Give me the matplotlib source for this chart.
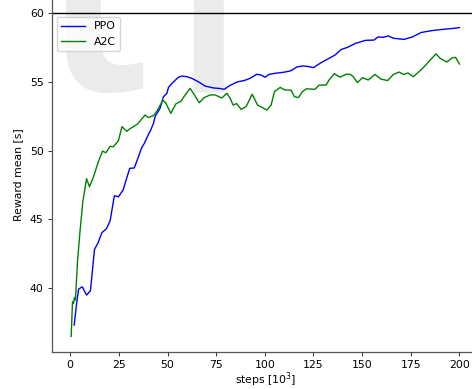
import matplotlib
matplotlib.use("Agg")
import matplotlib.pyplot as plt
import numpy as np

# ---- data (steps in 10^3, reward mean in s) ----
ppo_steps = [2.05, 3.1, 4.3, 6.2, 8.4, 10.4, 12.5, 14.2, 16.3, 18.6, 20.5, 22.7, 24.8, 27.2,
             28.5, 30.6, 32.9, 35.1, 36.7, 38.0, 40.3, 41.1, 42.8, 43.7, 46.2, 47.9, 49.7,
             50.5, 52.7, 55.6, 57.4, 59.9, 62.5, 65.9, 69.3, 73.6, 77.0, 79.1, 82.2, 85.8,
             89.4, 92.4, 95.9, 98.1, 100.2, 102.2, 105.3, 107.9, 110.4, 113.5, 116.6, 119.8,
             122.4, 125.0, 128.4, 131.2, 134.1, 136.1, 139.2, 142.5, 146.6, 151.8, 156.1,
             158.2, 160.9, 163.5, 166.1, 171.5, 175.9, 180.3, 185.4, 192.1, 196.9, 200.0]
ppo_reward = [37.28, 38.62, 39.9, 40.07, 39.47, 39.77, 42.8, 43.24, 44.02, 44.3, 44.87, 46.7,
              46.63, 47.12, 47.75, 48.7, 48.73, 49.55, 50.2, 50.5, 51.2, 51.4, 51.98, 52.5,
              53.08, 53.92, 54.17, 54.6, 54.95, 55.34, 55.43, 55.38, 55.26, 55.01, 54.7, 54.56,
              54.52, 54.46, 54.75, 55.0, 55.1, 55.26, 55.56, 55.5, 55.34, 55.55, 55.63, 55.67,
              55.72, 55.82, 56.1, 56.16, 56.12, 56.04, 56.36, 56.58, 56.8, 56.96, 57.36, 57.52,
              57.81, 58.03, 58.05, 58.28, 58.25, 58.35, 58.18, 58.1, 58.28, 58.6, 58.73, 58.84,
              58.9, 58.96]

a2c_steps = [0.5, 1.2, 1.7, 2.2, 2.7, 3.7, 5.1, 6.5, 8.4, 9.9, 12.0, 14.2, 16.6, 18.3, 20.5,
             22.2, 24.8, 26.6, 29.1, 30.8, 32.5, 34.6, 36.5, 38.5, 40.2, 42.8, 44.7, 47.6,
             49.0, 51.7, 54.3, 56.9, 59.1, 61.6, 63.3, 66.3, 68.8, 71.9, 74.5, 77.9, 80.5,
             82.2, 83.7, 85.6, 87.8, 90.4, 93.5, 96.3, 98.5, 101.0, 103.2, 105.0, 107.9,
             110.4, 113.5, 115.2, 117.3, 119.3, 121.5, 125.8, 127.9, 131.5, 133.0, 135.7,
             138.7, 141.7, 143.8, 145.3, 147.6, 150.2, 153.2, 156.6, 159.7, 163.1, 166.1,
             169.0, 171.2, 173.6, 176.3, 180.8, 184.4, 188.0, 190.0, 193.5, 196.2, 198.0, 200.0]
a2c_reward = [36.46, 38.98, 38.86, 39.3, 39.1, 41.8, 44.2, 46.27, 47.95, 47.36, 48.09, 49.07,
              49.96, 49.84, 50.3, 50.28, 50.72, 51.74, 51.4, 51.6, 51.74, 51.93, 52.25, 52.59,
              52.4, 52.55, 52.9, 53.66, 53.5, 52.71, 53.4, 53.6, 54.05, 54.53, 54.17, 53.48,
              53.85, 54.05, 54.05, 53.83, 54.17, 53.8, 53.32, 53.42, 53.0, 53.2, 54.1, 53.3,
              53.15, 52.95, 53.3, 54.3, 54.6, 54.41, 54.4, 53.92, 53.86, 54.29, 54.5, 54.46,
              54.77, 54.77, 55.14, 55.6, 55.34, 55.56, 55.55, 55.4, 54.95, 55.31, 55.14, 55.55,
              55.2, 55.1, 55.55, 55.72, 55.55, 55.65, 55.38, 55.95, 56.5, 57.05, 56.72, 56.45,
              56.75, 56.79, 56.3]

max_reward = 60
x_ticks = [0, 25, 50, 75, 100, 125, 150, 175, 200]
y_ticks = [40, 45, 50, 55, 60]

FS = 7.8
W, H = 472, 389
fig = plt.figure(figsize=(W / 100, H / 100), dpi=100)
ax = fig.add_axes([51.7 / W, 37.3 / H, (478.9 - 51.7) / W, 355 / H])

# light watermark letters behind the plot
ax.text(36 / W, (H - 90) / H, "t", transform=fig.transFigure, fontsize=285,
        family="Liberation Sans", color="#ebebeb", ha="left", va="baseline", zorder=0)
ax.text(170 / W, (H - 91) / H, "l", transform=fig.transFigure, fontsize=245,
        family="Liberation Sans", color="#ebebeb", ha="left", va="baseline", zorder=0)

ax.plot(ppo_steps, ppo_reward, color="blue", lw=1.0, label="PPO", zorder=3)
ax.plot(a2c_steps, a2c_reward, color="green", lw=1.0, label="A2C", zorder=3)
ax.axhline(max_reward, color="black", lw=1.0, zorder=2)

ax.set_xlim(-9.5, 210)
ax.set_ylim(35.34, 61.21)
ax.set_xticks(x_ticks)
ax.set_yticks(y_ticks)
ax.tick_params(labelsize=FS, length=2.8, width=0.7, color="#333333", pad=3)
for s in ["top", "right"]:
    ax.spines[s].set_visible(False)
for s in ["left", "bottom"]:
    ax.spines[s].set_color("#555555")
    ax.spines[s].set_linewidth(0.9)

ax.set_xlabel("steps [10$^3$]", fontsize=FS, labelpad=0.5)
ax.set_ylabel("Reward mean [s]", fontsize=FS, labelpad=5)

leg = ax.legend(loc="upper left", bbox_to_anchor=(57 / W, (H - 17) / H),
                bbox_transform=fig.transFigure, borderaxespad=0, fontsize=FS,
                handlelength=2.2)
leg.set_zorder(5)

fig.savefig("out.png", dpi=100)
